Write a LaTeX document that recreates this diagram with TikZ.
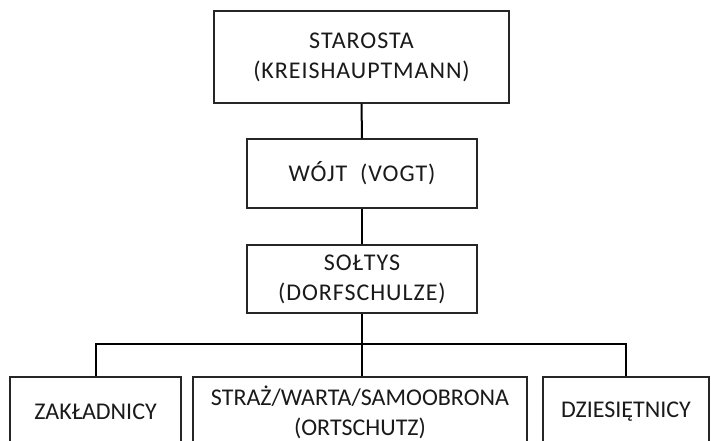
\documentclass[tikz,border=0pt]{standalone}
\usepackage{fontspec}
\setmainfont{Carlito}
\newfontfamily\spacedfont[LetterSpace=4]{Carlito}
\definecolor{ink}{HTML}{1A1A1A}
\definecolor{frame}{HTML}{262626}
\begin{document}
\begin{tikzpicture}[x=1pt,y=-1pt,
  box/.style={draw=frame,line width=1.3pt,fill=white,inner sep=0pt,align=center,text=ink,
    font=\fontsize{24}{30}\selectfont},
  sbox/.style={box,font=\fontsize{24}{30}\selectfont\spacedfont},
  link/.style={draw=black,line width=2pt}]
\useasboundingbox (0,0) rectangle (711,440);
\clip (0,0) rectangle (711,440);
\node[sbox,minimum width=295,minimum height=92] (star) at (361.5,57) {STAROSTA\\(KREISHAUPTMANN)};
\node[sbox,minimum width=230,minimum height=69] (wojt) at (362,173.5) {WÓJT\ \ (VOGT)};
\node[sbox,minimum width=230,minimum height=68] (solt) at (362,279) {\raisebox{-5pt}{\begin{tabular}{@{}c@{}}SOŁTYS\\(DORFSCHULZE)\end{tabular}}};
\coordinate (bus) at (362,344);
\node[box,minimum width=171,minimum height=70] (zak) at (95.5,412) {ZAKŁADNICY};
\node[box,minimum width=334,minimum height=70] (straz) at (360,412) {STRAŻ/WARTA/SAMOOBRONA\\(ORTSCHUTZ)};
\node[box,minimum width=166,minimum height=70] (dzi) at (626,412) {DZIESIĘTNICY};
\draw[link] (star.south) -- (wojt.north);
\draw[link] (wojt.south) -- (solt.north);
\draw[link] (solt.south) -- (bus) -- (bus |- straz.north);
\draw[link] (zak.north) |- (bus) -| (dzi.north);
\end{tikzpicture}
\end{document}
